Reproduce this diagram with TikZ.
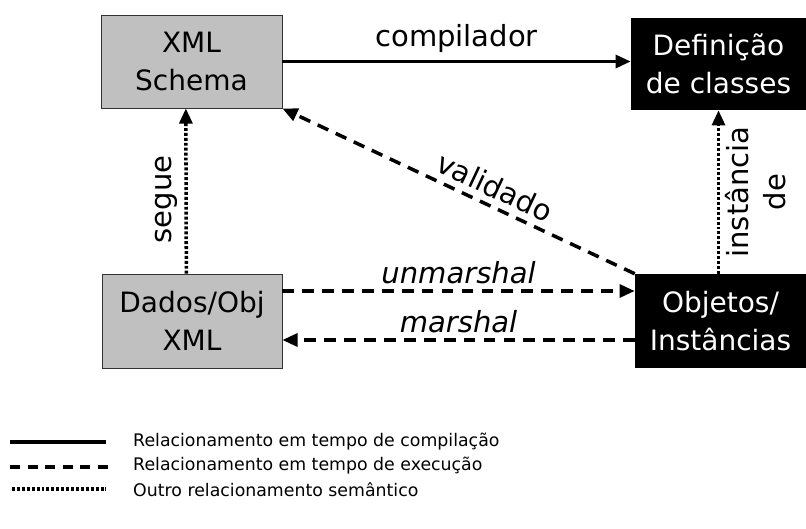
\documentclass[tikz,border=0pt]{standalone}
\usepackage{fontspec}
\setmainfont{DejaVu Sans}
\usetikzlibrary{arrows.meta}
\definecolor{boxgray}{HTML}{C0C0C0}

\begin{document}
\begin{tikzpicture}[x=0.03cm,y=-0.03cm,
		xmlbox/.style={draw=black!80, line width=0.6pt, fill=boxgray, align=center,
			font=\fontsize{23.9}{32.4}\selectfont, inner sep=0pt},
		javabox/.style={fill=black, text=white, align=center,
			font=\fontsize{23.9}{32.4}\selectfont, inner sep=0pt},
		rel/.style={line width=3pt, -{Triangle[length=13pt,width=11pt]}},
		compiletime/.style={rel},
		runtime/.style={rel, dash pattern=on 10pt off 7pt},
		semantic/.style={rel, dash pattern=on 2.5pt off 1.7pt},
		lbl/.style={font=\fontsize{24.8}{30}\selectfont},
		legendtext/.style={font=\fontsize{14.8}{17}\selectfont, anchor=west, inner sep=0pt}
	]
	\useasboundingbox (0,0) rectangle (806,528);

	% boxes
	\node[xmlbox, minimum width=5.43cm, minimum height=2.79cm] (schema) at (191.5,61.5) {XML\\Schema};
	\node[javabox, minimum width=5.25cm, minimum height=2.76cm] (classes) at (718.5,64) {Definição\\de classes};
	\node[xmlbox, minimum width=5.4cm, minimum height=2.82cm] (dados) at (192,321) {Dados/Obj\\XML};
	\node[javabox, minimum width=5.13cm, minimum height=2.82cm] (objetos) at (720.5,321) {Objetos/\\Instâncias};

	% relationships
	\draw[compiletime] (schema.east) -- (schema.east -| classes.west)
		node[lbl, midway, above=3pt] {compilador};
	\draw[runtime] (objetos.north west) -- (schema.south east)
		node[lbl, pos=0.42, sloped, above=2pt] {validado};
	\draw[runtime] ([yshift=0.9cm]dados.east) -- ([yshift=0.9cm]objetos.west)
		node[lbl, midway, above=1pt] {\itshape unmarshal};
	\draw[runtime] ([yshift=-0.57cm]objetos.west) -- ([yshift=-0.57cm]dados.east)
		node[lbl, midway, above=1pt] {\itshape marshal};
	\draw[semantic] ([xshift=-0.17cm]dados.north) -- ([xshift=-0.17cm]schema.south)
		node[lbl, pos=0.45, rotate=90, anchor=south, inner sep=6pt] {segue};
	\draw[semantic] (objetos.north -| classes.south) -- (classes.south)
		node[lbl, midway, rotate=90, anchor=north, align=center, inner sep=4pt,
			font=\fontsize{24.8}{31.6}\selectfont] {instância\\de};

	% legend
	\coordinate (solidA) at (10,442);
	\coordinate (solidB) at (106,442);
	\coordinate (dashA) at (10,467);
	\coordinate (dashB) at (110,467);
	\coordinate (dotA) at (12,489);
	\coordinate (dotB) at (106,489);
	\draw[line width=3pt] (solidA) -- (solidB);
	\draw[line width=3pt, dash pattern=on 8.5pt off 6.5pt] (dashA) -- (dashB);
	\draw[line width=3pt, dash pattern=on 2.5pt off 1.7pt] (dotA) -- (dotB);
	\node[legendtext] (compileleg) at (133,442) {Relacionamento em tempo de compilação};
	\node[legendtext] (runleg) at (133,466) {Relacionamento em tempo de execução};
	\node[legendtext] (otherleg) at (133,490) {Outro relacionamento semântico};
\end{tikzpicture}
\end{document}
